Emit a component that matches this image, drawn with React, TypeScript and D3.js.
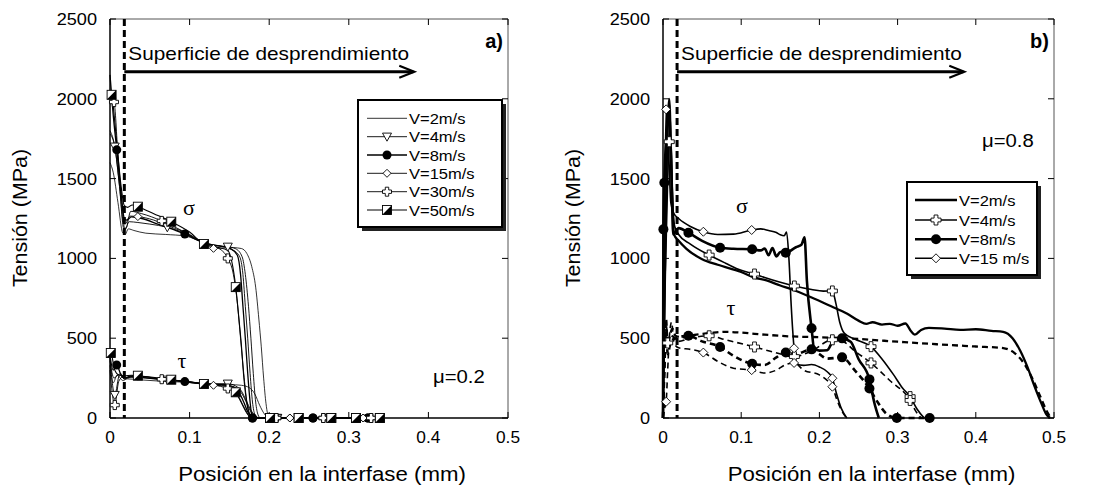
import React from "react";
import * as d3 from "d3";

type Pt = number[];

const xTicks = [0, 0.1, 0.2, 0.3, 0.4, 0.5];
const xTickLabels = ["0", "0.1", "0.2", "0.3", "0.4", "0.5"];
const yTicks = [0, 500, 1000, 1500, 2000, 2500];
const yTickLabels = ["0", "500", "1000", "1500", "2000", "2500"];

const legendA = ["V=2m/s", "V=4m/s", "V=8m/s", "V=15m/s", "V=30m/s", "V=50m/s"];
const legendB = ["V=2m/s", "V=4m/s", "V=8m/s", "V=15 m/s"];
const debondX = 0.018;
const arrowEndX = [0.381, 0.384];
const arrowV = 2170;

// ---- Panel a) mu = 0.2 ----  [x (mm), stress (MPa), marker?]
const sigA2: Pt[] = [[0,1600],[0.004,1540],[0.01,1350],[0.016,1160],[0.019,1150],[0.023,1185],[0.03,1175],[0.045,1158],[0.07,1150],[0.095,1140],[0.12,1095],[0.14,1075],[0.155,1068],[0.165,1062],[0.172,1030],[0.178,950],[0.183,820],[0.187,620],[0.19,450],[0.193,250],[0.196,90],[0.2,0],[0.342,0]];
const sigA4: Pt[] = [[0,1780],[0.006,1700,1],[0.012,1450],[0.017,1190],[0.019,1180],[0.024,1230],[0.035,1225],[0.05,1215],[0.072,1195,1],[0.095,1155],[0.12,1093],[0.135,1080],[0.148,1073,1],[0.158,1060],[0.166,1010],[0.17,900],[0.174,700],[0.177,500],[0.18,280],[0.183,100],[0.186,20],[0.189,0],[0.21,0,1],[0.274,0,1],[0.34,0]];
const sigA8: Pt[] = [[0,2150],[0.004,1900],[0.0085,1680,1],[0.014,1400],[0.018,1250],[0.021,1240],[0.027,1260],[0.04,1250],[0.06,1215],[0.08,1180],[0.094,1153,1],[0.11,1115],[0.125,1090],[0.14,1075],[0.152,1060],[0.16,1020],[0.164,900],[0.167,700],[0.17,500],[0.173,280],[0.176,100],[0.179,0,1],[0.255,0,1],[0.324,0,1],[0.342,0]];
const sigA15: Pt[] = [[0,1800],[0.006,1700],[0.012,1450],[0.017,1220],[0.019,1215],[0.025,1265],[0.035,1262,1],[0.055,1240],[0.075,1200],[0.1,1150],[0.12,1090],[0.13,1063,1],[0.145,1065],[0.155,1050],[0.163,1010],[0.167,900],[0.17,700],[0.173,500],[0.176,280],[0.179,100],[0.182,20],[0.185,0],[0.226,0,1],[0.318,0,1],[0.342,0]];
const sigA30: Pt[] = [[0,2000],[0.005,1980,1],[0.01,1650],[0.015,1350],[0.018,1195],[0.02,1190],[0.026,1295],[0.04,1280],[0.065,1235,1],[0.09,1175],[0.12,1093],[0.135,1068],[0.148,1000,1],[0.155,900],[0.16,720],[0.164,500],[0.168,280],[0.172,100],[0.176,20],[0.18,0],[0.209,0,1],[0.268,0,1],[0.328,0,1],[0.342,0]];
const sigA50: Pt[] = [[0,2040],[0.002,2025,1],[0.008,1750],[0.014,1450],[0.018,1330],[0.022,1320],[0.028,1335],[0.035,1324,1],[0.055,1280],[0.077,1230,1],[0.1,1165],[0.118,1090,1],[0.135,1070],[0.148,1050],[0.153,980],[0.158,820,1],[0.162,620],[0.165,460],[0.168,260],[0.172,90],[0.176,15],[0.179,0],[0.201,0,1],[0.237,0,1],[0.278,0,1],[0.309,0,1],[0.339,0,1]];

const tauA2: Pt[] = [[0,330],[0.004,220],[0.009,270],[0.016,235],[0.022,245],[0.035,240],[0.06,232],[0.09,225],[0.12,215],[0.15,210],[0.165,205],[0.175,190],[0.182,150],[0.188,80],[0.194,25],[0.2,0],[0.342,0]];
const tauA4: Pt[] = [[0,380],[0.006,144,1],[0.012,270],[0.018,245],[0.024,255],[0.045,250],[0.072,240,1],[0.1,228],[0.12,213],[0.148,215,1],[0.158,200],[0.165,170],[0.171,110],[0.177,50],[0.183,10],[0.189,0],[0.21,0,1],[0.274,0,1],[0.34,0]];
const tauA8: Pt[] = [[0,390],[0.004,300],[0.0084,332,1],[0.013,280],[0.018,250],[0.026,262],[0.05,248],[0.094,228,1],[0.12,213],[0.145,208],[0.155,195],[0.162,160],[0.168,100],[0.173,40],[0.179,0,1],[0.255,0,1],[0.324,0,1],[0.342,0]];
const tauA15: Pt[] = [[0,360],[0.005,250],[0.012,275],[0.018,245],[0.026,262],[0.035,262,1],[0.07,240],[0.1,226],[0.13,205,1],[0.15,200],[0.16,185],[0.166,150],[0.172,90],[0.178,30],[0.185,0],[0.226,0,1],[0.318,0,1],[0.342,0]];
const tauA30: Pt[] = [[0,300],[0.006,81,1],[0.011,230],[0.017,260],[0.022,250],[0.03,265],[0.065,243,1],[0.1,226],[0.13,207],[0.148,185,1],[0.155,170],[0.16,140],[0.165,95],[0.17,45],[0.175,10],[0.18,0],[0.209,0,1],[0.268,0,1],[0.328,0,1],[0.342,0]];
const tauA50: Pt[] = [[0,407],[0.001,407,1],[0.006,300],[0.011,270],[0.018,265],[0.027,268],[0.035,265,1],[0.077,240,1],[0.118,213,1],[0.145,205],[0.158,161,1],[0.163,120],[0.168,70],[0.173,25],[0.178,0],[0.201,0,1],[0.237,0,1],[0.278,0,1],[0.309,0,1],[0.339,0,1]];

// ---- Panel b) mu = 0.8 ----
const sigB2: Pt[] = [[0,0],[0.002,800],[0.005,1650],[0.008,2000],[0.011,1500],[0.014,1150],[0.02,1110],[0.03,1060],[0.05,995],[0.07,960],[0.1,915],[0.117,880],[0.13,865],[0.15,830],[0.165,805],[0.19,755],[0.215,700],[0.235,655],[0.25,610],[0.26,590],[0.268,600],[0.28,585],[0.29,590],[0.3,578],[0.31,592],[0.317,545],[0.322,522],[0.33,552],[0.34,565],[0.36,560],[0.38,552],[0.4,556],[0.42,546],[0.435,540],[0.447,500],[0.457,420],[0.466,320],[0.475,200],[0.484,90],[0.49,25],[0.495,0]];
const tauB2: Pt[] = [[0,0],[0.002,380],[0.004,620],[0.006,450],[0.009,520],[0.012,560],[0.016,515],[0.025,505],[0.04,520],[0.06,532],[0.08,540],[0.1,535],[0.13,522],[0.16,512],[0.2,506],[0.25,495],[0.3,478],[0.35,462],[0.4,448],[0.435,438],[0.45,405],[0.462,340],[0.472,250],[0.482,140],[0.49,50],[0.496,0]];
const sigB4: Pt[] = [[0,0],[0.003,900],[0.006,1500],[0.008,1731,1],[0.01,1760],[0.012,1400],[0.015,1200],[0.02,1150],[0.035,1090],[0.059,1021,1],[0.08,970],[0.1,925],[0.117,902,1],[0.13,880],[0.15,850],[0.168,827,1],[0.19,805],[0.205,795],[0.2166,796,1],[0.221,720],[0.226,600],[0.232,530],[0.245,495],[0.266,447,1],[0.28,370],[0.295,270],[0.306,190],[0.316,134,1],[0.325,55],[0.334,0]];
const tauB4: Pt[] = [[0,0],[0.002,300],[0.004,600],[0.006,470,1],[0.009,450],[0.012,515],[0.02,480],[0.035,500],[0.059,515,1],[0.08,490],[0.117,445,1],[0.14,415],[0.168,385,1],[0.19,420],[0.2166,490,1],[0.23,480],[0.245,420],[0.266,345,1],[0.29,235],[0.316,110,1],[0.323,45],[0.33,0]];
const sigB8: Pt[] = [[0,0],[0.0005,1182,1],[0.0017,1474,1],[0.005,1800],[0.008,1900],[0.011,1500],[0.013,1150],[0.02,1190],[0.0325,1161,1],[0.05,1110],[0.073,1067,1],[0.09,1060],[0.114,1057,1],[0.125,1050],[0.13,1062],[0.135,1020],[0.14,1065],[0.145,1012],[0.15,1040],[0.157,1036,1],[0.17,1070],[0.177,1085],[0.181,1132],[0.184,860],[0.19,562,1],[0.193,440],[0.2,422],[0.21,425],[0.216,470],[0.222,500],[0.229,499,1],[0.24,478],[0.25,370],[0.264,242,1],[0.27,100],[0.276,0]];
const tauB8: Pt[] = [[0,0],[0.002,350],[0.004,560],[0.006,400],[0.01,480],[0.02,505],[0.0325,515,1],[0.05,480],[0.073,445,1],[0.09,390],[0.114,340,1],[0.13,332],[0.145,380],[0.157,410,1],[0.17,402],[0.19,430,1],[0.2,400],[0.21,372],[0.229,380,1],[0.245,300],[0.264,185,1],[0.275,95],[0.285,30],[0.299,0,1],[0.341,0,1]];
const sigB15: Pt[] = [[0,0],[0.002,1200],[0.004,1934,1],[0.007,1700],[0.01,1350],[0.014,1280],[0.02,1250],[0.035,1200],[0.0516,1167,1],[0.07,1150],[0.09,1152],[0.1134,1178,1],[0.125,1185],[0.135,1175],[0.145,1162],[0.15,1148],[0.155,1142],[0.158,1165],[0.161,1000],[0.164,700],[0.1676,437,1],[0.17,340],[0.18,330],[0.19,335],[0.2,320],[0.21,290],[0.2166,249,1],[0.222,150],[0.228,60],[0.235,0]];
const tauB15: Pt[] = [[0,0],[0.002,60],[0.004,102,1],[0.006,300],[0.008,500],[0.011,600],[0.014,470],[0.02,440],[0.035,430],[0.0516,410,1],[0.07,355],[0.09,312],[0.1134,300,1],[0.13,282],[0.145,300],[0.157,335],[0.1676,345,1],[0.18,300],[0.2,270],[0.21,235],[0.2166,196,1],[0.222,120],[0.228,50],[0.235,0]];

const FONT = "'Liberation Sans', Arial, Helvetica, sans-serif";
const SERIF = "'Liberation Serif', 'DejaVu Serif', serif";

type Series = { label: string; marker: string; sigma: Pt[]; tau: Pt[]; w: number; ms: number };

const seriesA: Series[] = [
  { label: legendA[0], marker: "none", sigma: sigA2, tau: tauA2, w: 0.8, ms: 9 },
  { label: legendA[1], marker: "tri", sigma: sigA4, tau: tauA4, w: 0.9, ms: 9 },
  { label: legendA[2], marker: "dot", sigma: sigA8, tau: tauA8, w: 1.3, ms: 9 },
  { label: legendA[3], marker: "diamond", sigma: sigA15, tau: tauA15, w: 0.9, ms: 8 },
  { label: legendA[4], marker: "plus", sigma: sigA30, tau: tauA30, w: 0.9, ms: 9 },
  { label: legendA[5], marker: "half", sigma: sigA50, tau: tauA50, w: 1.1, ms: 9 },
];
const seriesB: Series[] = [
  { label: legendB[0], marker: "none", sigma: sigB2, tau: tauB2, w: 2.3, ms: 10 },
  { label: legendB[1], marker: "plus", sigma: sigB4, tau: tauB4, w: 1.6, ms: 10 },
  { label: legendB[2], marker: "dot", sigma: sigB8, tau: tauB8, w: 2.6, ms: 10 },
  { label: legendB[3], marker: "diamond", sigma: sigB15, tau: tauB15, w: 1.6, ms: 9 },
];

function T(p: { x: number; y: number; size: number; sx?: number; rot?: number; anchor?: string; weight?: string; family?: string; children: any }) {
  const { x, y, size, sx = 1, rot = 0, anchor = "start", weight = "normal", family = FONT } = p;
  return (
    <text transform={`translate(${x},${y}) rotate(${rot}) scale(${sx},1)`} fontSize={size} textAnchor={anchor as any} fontWeight={weight} fontFamily={family} fill="#000">
      {p.children}
    </text>
  );
}

function Marker({ type, x, y, s }: { type: string; x: number; y: number; s: number }) {
  const h = s / 2;
  if (type === "dot") return <circle cx={x} cy={y} r={h} fill="#000" />;
  if (type === "tri")
    return <path d={`M${x - h},${y - h * 0.8}L${x + h},${y - h * 0.8}L${x},${y + h}Z`} fill="#fff" stroke="#000" strokeWidth={0.9} />;
  if (type === "diamond")
    return <path d={`M${x},${y - h}L${x + h},${y}L${x},${y + h}L${x - h},${y}Z`} fill="#fff" stroke="#000" strokeWidth={0.9} />;
  if (type === "plus") {
    const w = s * 0.19;
    return (
      <path
        d={`M${x - w},${y - h}H${x + w}V${y - w}H${x + h}V${y + w}H${x + w}V${y + h}H${x - w}V${y + w}H${x - h}V${y - w}H${x - w}Z`}
        fill="#fff" stroke="#000" strokeWidth={0.9}
      />
    );
  }
  if (type === "half")
    return (
      <g>
        <rect x={x - h} y={y - h} width={s} height={s} fill="#fff" stroke="#000" strokeWidth={0.9} />
        <path d={`M${x + h},${y - h}L${x + h},${y + h}L${x - h},${y + h}Z`} fill="#000" />
      </g>
    );
  return null;
}

const Y0 = 19, Y1 = 418;

function Panel(props: {
  px0: number; px1: number; series: Series[]; dashedTau: boolean; tag: string; mu: string; muPos: number[];
  sigPos: number[]; tauPos: number[]; legend: { x0: number; y0: number; x1: number; y1: number; rows: number[]; lx0: number; lx1: number };
  arrowEnd: number; curve: any;
}) {
  const { px0, px1, series, legend } = props;
  const xs = d3.scaleLinear().domain([0, 0.5]).range([px0, px1]);
  const ys = d3.scaleLinear().domain([0, 2500]).range([Y1, Y0]);
  const line = d3.line<Pt>().x((d) => xs(d[0])).y((d) => ys(d[1])).curve(props.curve);
  const midX = (px0 + px1) / 2;
  const dx = xs(debondX);
  const ay = ys(arrowV);
  const ax = xs(props.arrowEnd);
  return (
    <g>
      {/* frame */}
      <line x1={px0} y1={Y0} x2={px1} y2={Y0} stroke="#555" strokeWidth={1} />
      <line x1={px1} y1={Y0} x2={px1} y2={Y1} stroke="#555" strokeWidth={1} />
      <line x1={px0} y1={Y1} x2={px1} y2={Y1} stroke="#000" strokeWidth={1.5} />
      <line x1={px0} y1={Y0} x2={px0} y2={Y1} stroke="#000" strokeWidth={1.5} />
      {xTicks.map((t, i) => (
        <g key={"xt" + i}>
          <line x1={xs(t)} x2={xs(t)} y1={Y1} y2={Y1 - 6} stroke="#000" strokeWidth={1} />
          <line x1={xs(t)} x2={xs(t)} y1={Y0} y2={Y0 + 6} stroke="#000" strokeWidth={1} />
          <T x={xs(t)} y={443} size={16.5} sx={1.05} anchor="middle">{xTickLabels[i]}</T>
        </g>
      ))}
      {yTicks.map((t, i) => (
        <g key={"yt" + i}>
          <line x1={px0} x2={px0 + 6} y1={ys(t)} y2={ys(t)} stroke="#000" strokeWidth={1} />
          <line x1={px1} x2={px1 - 6} y1={ys(t)} y2={ys(t)} stroke="#000" strokeWidth={1} />
          <T x={px0 - 13} y={ys(t) + 6} size={16.5} sx={1.1} anchor="end">{yTickLabels[i]}</T>
        </g>
      ))}
      {/* curves */}
      {series.map((s, i) => (
        <g key={"s" + i} fill="none" stroke="#000">
          <path d={line(s.tau) || ""} strokeWidth={s.w} strokeDasharray={props.dashedTau ? "6,4" : undefined} />
          <path d={line(s.sigma) || ""} strokeWidth={s.w} />
        </g>
      ))}
      {series.map((s, i) => (
        <g key={"m" + i}>
          {[...s.sigma, ...s.tau].filter((d) => d[2]).map((d, j) => (
            <Marker key={j} type={s.marker} x={xs(d[0])} y={ys(d[1])} s={s.ms} />
          ))}
        </g>
      ))}
      {/* debonding line and arrow */}
      <line x1={dx} x2={dx} y1={Y0} y2={Y1} stroke="#000" strokeWidth={3} strokeDasharray="7,4" />
      <line x1={dx} x2={ax} y1={ay} y2={ay} stroke="#000" strokeWidth={3} />
      <path d={`M${ax - 14},${ay - 6}L${ax + 1},${ay}L${ax - 14},${ay + 6}`} fill="none" stroke="#000" strokeWidth={2.2} />
      <T x={dx + 4} y={60} size={19} sx={1.095}>Superficie de desprendimiento</T>
      <T x={px1 - 5} y={48} size={20} weight="bold" anchor="end">{props.tag}</T>
      <T x={props.muPos[0]} y={props.muPos[1]} size={19} sx={1.07}>{props.mu}</T>
      <T x={props.sigPos[0]} y={props.sigPos[1]} size={22} family={SERIF} anchor="middle">σ</T>
      <T x={props.tauPos[0]} y={props.tauPos[1]} size={22} family={SERIF} anchor="middle">τ</T>
      {/* legend */}
      <rect x={legend.x0 + 4} y={legend.y0 + 4} width={legend.x1 - legend.x0} height={legend.y1 - legend.y0} fill="#222" />
      <rect x={legend.x0} y={legend.y0} width={legend.x1 - legend.x0} height={legend.y1 - legend.y0} fill="#fff" stroke="#000" strokeWidth={2} />
      {series.map((s, i) => {
        const ry = legend.rows[i];
        return (
          <g key={"l" + i}>
            <line x1={legend.lx0} x2={legend.lx1} y1={ry} y2={ry} stroke="#000" strokeWidth={s.w} />
            <Marker type={s.marker} x={(legend.lx0 + legend.lx1) / 2} y={ry} s={s.ms} />
            <T x={legend.lx1 + 2} y={ry + 5.5} size={14.5} sx={1.14}>{s.label}</T>
          </g>
        );
      })}
      {/* axis titles */}
      <T x={midX + 13} y={481} size={19.5} sx={1.14} anchor="middle">Posición en la interfase (mm)</T>
      <T x={px0 - 83} y={218} size={19.5} sx={1.1} rot={-90} anchor="middle">Tensión (MPa)</T>
    </g>
  );
}

export default function App() {
  return (
    <svg width={1094} height={489} style={{ position: "absolute", left: 0, top: 0, background: "#fff" }}>
      <rect x={0} y={0} width={1094} height={489} fill="#fff" />
      <Panel
        px0={110} px1={508} series={seriesA} dashedTau={false} tag="a)" mu="μ=0.2" muPos={[433, 383]}
        sigPos={[189, 215]} tauPos={[182, 368]} arrowEnd={arrowEndX[0]} curve={d3.curveMonotoneX}
        legend={{ x0: 358, y0: 100, x1: 502, y1: 227, rows: [118.3, 136.7, 155, 173.3, 191.7, 210], lx0: 367, lx1: 407 }}
      />
      <Panel
        px0={663} px1={1054} series={seriesB} dashedTau={true} tag="b)" mu="μ=0.8" muPos={[982, 147]}
        sigPos={[742, 213]} tauPos={[731, 315]} arrowEnd={arrowEndX[1]} curve={d3.curveMonotoneX}
        legend={{ x0: 907, y0: 182, x1: 1037, y1: 275, rows: [200, 220, 239.3, 258.3], lx0: 915, lx1: 957 }}
      />
    </svg>
  );
}
